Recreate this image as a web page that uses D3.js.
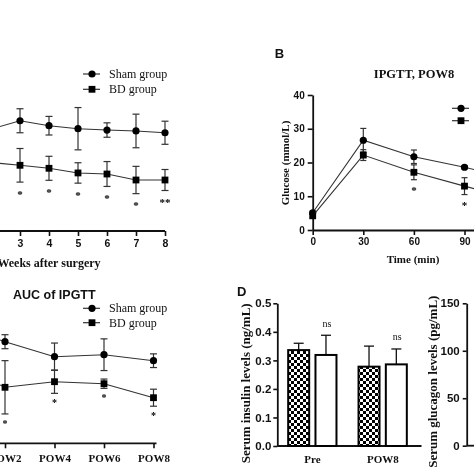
<!DOCTYPE html>
<html><head><meta charset="utf-8">
<script src="https://cdn.jsdelivr.net/npm/d3@7"></script>
<style>body{margin:0;background:#fff;overflow:hidden} svg{display:block;will-change:transform}</style>
</head><body>
<script>
// ---------- Panel A (weeks after surgery) ----------
const weeksA = [2, 3, 4, 5, 6, 7, 8];
const shamA = [6.79, 7.35, 7.02, 6.82, 6.73, 6.67, 6.55];
const shamAErr = [0.7, 0.80, 0.62, 1.41, 0.48, 1.12, 0.77];
const bdA = [4.57, 4.38, 4.18, 3.87, 3.80, 3.40, 3.40];
const bdAErr = [0.9, 1.12, 0.80, 0.68, 0.83, 0.91, 0.70];
const starsA = ["", "*", "*", "*", "*", "*", "**"];
const weekTicks = [3, 4, 5, 6, 7, 8];

// ---------- Panel B (IPGTT, POW8) ----------
const timesB = [0, 30, 60, 90, 120];
const shamB = [5.1, 26.6, 21.7, 18.6, 15.0];
const shamBErr = [0.5, 3.5, 2.0, 0.5, 1.0];
const bdB = [4.2, 22.2, 17.1, 13.0, 9.0];
const bdBErr = [0.5, 1.6, 2.2, 2.5, 1.5];
const starsB = ["", "", "*", "*", ""];
const timeTicks = [0, 30, 60, 90];
const glucoseTicks = [0, 10, 20, 30, 40];

// ---------- Panel C (AUC of IPGTT) ----------
const catsC = ["Pre", "POW2", "POW4", "POW6", "POW8"];
const shamC = [2366, 2032, 1732, 1772, 1652];
const shamCErr = [150, 140, 273, 317, 137];
const bdC = [1576, 1120, 1232, 1192, 912];
const bdCErr = [200, 533, 233, 93, 170];
const starsC = ["", "*", "*", "*", "*"];
const tickCatsC = ["POW2", "POW4", "POW6", "POW8"];

// ---------- Panel D (serum insulin / glucagon) ----------
const catsD = ["Pre", "POW8"];
const insulinSham = [0.336, 0.278];
const insulinShamErr = [0.024, 0.072];
const insulinBD = [0.319, 0.286];
const insulinBDErr = [0.069, 0.054];
const nsD = ["ns", "ns"];
const insulinTicks = [0, 0.1, 0.2, 0.3, 0.4, 0.5];
const glucagonTicks = [0, 50, 100, 150];

const SERIF = "'Liberation Serif', 'Times New Roman', serif";
const SANS = "'Liberation Sans', Arial, sans-serif";
const INK = "#111";
const LINE = "#333";

const svg = d3.select("body").append("svg").attr("width", 474).attr("height", 474);
const defs = svg.append("defs");
const pat = defs.append("pattern").attr("id", "chk").attr("width", 6).attr("height", 6)
  .attr("patternUnits", "userSpaceOnUse");
pat.append("rect").attr("width", 6).attr("height", 6).attr("fill", "#fff");
pat.append("rect").attr("x", 0).attr("y", 0).attr("width", 3).attr("height", 3).attr("fill", "#000");
pat.append("rect").attr("x", 3).attr("y", 3).attr("width", 3).attr("height", 3).attr("fill", "#000");

function styleAxis(g, font, size, weight) {
  g.select(".domain").attr("stroke", INK).attr("stroke-width", 1.8);
  g.selectAll(".tick line").attr("stroke", INK).attr("stroke-width", 1.6);
  g.selectAll(".tick text").attr("fill", INK).attr("font-family", font)
    .attr("font-size", size).attr("font-weight", weight);
}

function series(g, xs, ys, errs, x, y, shape, cap) {
  const pts = xs.map((v, i) => ({ x: x(v), y: y(ys[i]), lo: y(ys[i] - errs[i]), hi: y(ys[i] + errs[i]) }));
  g.append("path").datum(pts).attr("fill", "none").attr("stroke", LINE).attr("stroke-width", 1.1)
    .attr("d", d3.line().x(d => d.x).y(d => d.y));
  const eb = g.append("g").attr("stroke", LINE).attr("stroke-width", 1.2);
  pts.forEach(p => {
    eb.append("line").attr("x1", p.x).attr("x2", p.x).attr("y1", p.lo).attr("y2", p.hi);
    eb.append("line").attr("x1", p.x - cap).attr("x2", p.x + cap).attr("y1", p.lo).attr("y2", p.lo);
    eb.append("line").attr("x1", p.x - cap).attr("x2", p.x + cap).attr("y1", p.hi).attr("y2", p.hi);
  });
  pts.forEach(p => marker(g, p.x, p.y, shape));
  return pts;
}
function marker(g, x, y, shape) {
  if (shape === "circle") g.append("circle").attr("cx", x).attr("cy", y).attr("r", 3.6).attr("fill", "#000");
  else g.append("rect").attr("x", x - 3.4).attr("y", y - 3.4).attr("width", 6.8).attr("height", 6.8).attr("fill", "#000");
}
function stars(g, pts, labels, dy, size) {
  pts.forEach((p, i) => {
    if (!labels[i]) return;
    g.append("text").attr("x", p.x).attr("y", p.lo + dy).attr("text-anchor", "middle")
      .attr("font-family", SERIF).attr("font-weight", "bold").attr("font-size", size).attr("fill", "#000").text(labels[i]);
  });
}
function legend(g, x, y, shape, label) {
  g.append("line").attr("x1", x - 9).attr("x2", x + 8).attr("y1", y).attr("y2", y)
    .attr("stroke", LINE).attr("stroke-width", 1.2);
  marker(g, x, y, shape);
  if (label) g.append("text").attr("x", x + 17).attr("y", y + 4).attr("font-family", SERIF)
    .attr("font-size", 12).attr("fill", INK).text(label);
}

// ===== Panel A =====
{
  const g = svg.append("g");
  const x = d3.scaleLinear([0, 8], [-67, 165]);
  const y = d3.scaleLinear([0, 10], [231, 81]);
  const ax = g.append("g").attr("transform", "translate(0,231)")
    .call(d3.axisBottom(x).tickValues(weekTicks).tickSize(5).tickPadding(4).tickSizeOuter(0));
  styleAxis(ax, SANS, 10.5, "bold");
  ax.select(".domain").attr("d", "M-10,0H165");
  series(g, weeksA, shamA, shamAErr, x, y, "circle", 3.5);
  const b = series(g, weeksA, bdA, bdAErr, x, y, "square", 3.5);
  stars(g, b, starsA, 15.5, 11);
  g.append("text").attr("x", 49).attr("y", 267).attr("text-anchor", "middle").attr("font-family", SERIF)
    .attr("font-weight", "bold").attr("font-size", 12).attr("fill", INK).text("Weeks after surgery");
  legend(g, 92, 74, "circle", "Sham group");
  legend(g, 92, 89.3, "square", "BD group");
}

// ===== Panel B =====
{
  const g = svg.append("g");
  const x = d3.scaleLinear([0, 120], [312.7, 515.1]);
  const y = d3.scaleLinear([0, 40], [230, 95]);
  const ax = g.append("g").attr("transform", "translate(0,230)")
    .call(d3.axisBottom(x).tickValues(timeTicks).tickSize(5).tickPadding(3).tickSizeOuter(0));
  styleAxis(ax, SANS, 10, "bold");
  const ay = g.append("g").attr("transform", "translate(312.7,0)")
    .call(d3.axisLeft(y).tickValues(glucoseTicks).tickSize(5).tickPadding(3).tickSizeOuter(0));
  styleAxis(ay, SANS, 10, "bold");
  series(g, timesB, shamB, shamBErr, x, y, "circle", 3);
  const b = series(g, timesB, bdB, bdBErr, x, y, "square", 3);
  stars(g, b, starsB, 14, 11);
  g.append("text").attr("x", 279.5).attr("y", 58.3).attr("text-anchor", "middle").attr("font-family", SANS)
    .attr("font-weight", "bold").attr("font-size", 13).attr("fill", INK).text("B");
  g.append("text").attr("x", 414).attr("y", 77.5).attr("text-anchor", "middle").attr("font-family", SERIF)
    .attr("font-weight", "bold").attr("font-size", 12.5).attr("fill", INK).text("IPGTT, POW8");
  g.append("text").attr("x", 413).attr("y", 263).attr("text-anchor", "middle").attr("font-family", SERIF)
    .attr("font-weight", "bold").attr("font-size", 11).attr("fill", INK).text("Time (min)");
  g.append("text").attr("transform", "translate(289,163) rotate(-90)").attr("text-anchor", "middle")
    .attr("font-family", SERIF).attr("font-weight", "bold").attr("font-size", 11).attr("fill", INK)
    .text("Glucose (mmol/L)");
  legend(g, 461, 108.3, "circle", null);
  legend(g, 461, 120.7, "square", null);
}

// ===== Panel C =====
{
  const g = svg.append("g");
  const x = d3.scalePoint(catsC, [-44.5, 153.5]);
  const y = d3.scaleLinear([0, 3000], [443.3, 293.3]);
  const ax = g.append("g").attr("transform", "translate(0,443.3)")
    .call(d3.axisBottom(x).tickValues(tickCatsC).tickSize(5).tickPadding(6).tickSizeOuter(0));
  styleAxis(ax, SERIF, 11, "bold");
  ax.select(".domain").attr("d", "M-10,0H156.5");
  series(g, catsC, shamC, shamCErr, x, y, "circle", 3.5);
  const b = series(g, catsC, bdC, bdCErr, x, y, "square", 3.5);
  stars(g, b, starsC, 13, 10);
  g.append("text").attr("x", 13).attr("y", 298.5).attr("font-family", SANS).attr("font-weight", "bold")
    .attr("font-size", 12.5).attr("fill", INK).text("AUC of IPGTT");
  legend(g, 92, 308.3, "circle", "Sham group");
  legend(g, 92, 322.7, "square", "BD group");
}

// ===== Panel D =====
{
  const g = svg.append("g");
  const x = d3.scaleBand(catsD, [277.3, 418]);
  const y = d3.scaleLinear([0, 0.5], [446, 303.3]);
  const ay = g.append("g").attr("transform", "translate(277.3,0)")
    .call(d3.axisLeft(y).tickValues(insulinTicks).tickFormat(d3.format(".1f")).tickSize(4).tickPadding(2).tickSizeOuter(0));
  styleAxis(ay, SANS, 11.5, "bold");
  const ax = g.append("g").attr("transform", "translate(0,446)")
    .call(d3.axisBottom(x).tickSize(0).tickPadding(9).tickSizeOuter(0));
  styleAxis(ax, SERIF, 11, "bold");
  ax.select(".domain").attr("d", "M277.3,0H421.5");
  const bw = 21;
  const groups = [
    { vals: insulinSham, errs: insulinShamErr, off: -24.3, fill: "url(#chk)" },
    { vals: insulinBD, errs: insulinBDErr, off: 3, fill: "#fff" }
  ];
  groups.forEach((grp, gi) => {
    catsD.forEach((c, i) => {
      const cx = x(c) + x.bandwidth() / 2 + grp.off;
      const v = grp.vals[i], e = grp.errs[i];
      const mid = cx + bw / 2;
      g.append("line").attr("x1", mid).attr("x2", mid).attr("y1", y(v)).attr("y2", y(v + e))
        .attr("stroke", INK).attr("stroke-width", 1.3);
      g.append("line").attr("x1", mid - 5).attr("x2", mid + 5).attr("y1", y(v + e)).attr("y2", y(v + e))
        .attr("stroke", INK).attr("stroke-width", 1.3);
      g.append("rect").attr("x", cx).attr("y", y(v)).attr("width", bw).attr("height", y(0) - y(v))
        .attr("fill", grp.fill).attr("stroke", "#000").attr("stroke-width", 2);
      if (gi === 1) {
        g.append("text").attr("x", mid + 1).attr("y", y(v + e) - 8.5).attr("text-anchor", "middle")
          .attr("font-family", SERIF).attr("font-size", 10).attr("fill", INK).text(nsD[i]);
      }
    });
  });
  g.append("text").attr("x", 237).attr("y", 295.5).attr("font-family", SANS).attr("font-weight", "bold")
    .attr("font-size", 13).attr("fill", INK).text("D");
  g.append("text").attr("transform", "translate(250,383.3) rotate(-90)").attr("text-anchor", "middle")
    .attr("font-family", SERIF).attr("font-weight", "bold").attr("font-size", 13).attr("fill", INK)
    .text("Serum insulin levels (ng/mL)");

  // glucagon sub-panel
  const yg = d3.scaleLinear([0, 150], [445.7, 303.3]);
  const ag = g.append("g").attr("transform", "translate(466.7,0)")
    .call(d3.axisLeft(yg).tickValues(glucagonTicks).tickSize(4).tickPadding(3).tickSizeOuter(0));
  styleAxis(ag, SANS, 11.5, "bold");
  g.append("line").attr("x1", 466.7).attr("x2", 480).attr("y1", 445.7).attr("y2", 445.7)
    .attr("stroke", INK).attr("stroke-width", 1.8);
  g.append("text").attr("transform", "translate(437,381.7) rotate(-90)").attr("text-anchor", "middle")
    .attr("font-family", SERIF).attr("font-weight", "bold").attr("font-size", 13).attr("fill", INK)
    .text("Serum glucagon levels (pg/mL)");
}
</script>
</body></html>
